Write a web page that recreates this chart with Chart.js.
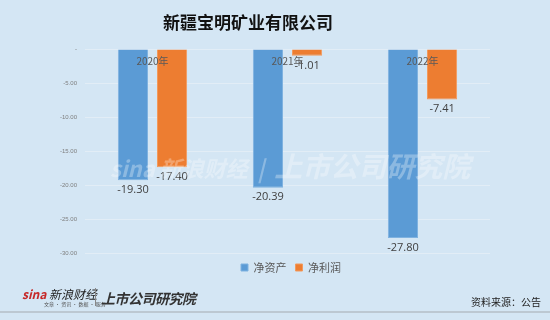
<!DOCTYPE html>
<html>
<head>
<meta charset="utf-8">
<script src="https://cdn.jsdelivr.net/npm/chart.js@4.4.0/dist/chart.umd.min.js"></script>
<style>
  body { margin: 0; }
  #wrap { position: relative; width: 550px; height: 320px; background: #d4e6f4; overflow: hidden;
    font-family: "Noto Sans CJK SC", "Noto Sans", sans-serif; }
  #chart { position: absolute; left: 0; top: 0; }
  .title { position: absolute; left: 0; width: 496px; top: 9px; text-align: center;
    font-size: 17px; font-weight: bold; color: #111; }
  .src { position: absolute; right: 9px; top: 294px; font-size: 10px; color: #222; }
  .rule { position: absolute; left: 0; right: 0; top: 311px; height: 2px; background: #bcc8d2; }
  .mark { position: absolute; left: 110px; top: 145px; font-size: 22px; font-weight: bold; font-style: italic;
    color: rgba(255,255,255,0.3); white-space: nowrap; pointer-events: none; }
  .mark span { font-size: 28px; }
  .logo1 { position: absolute; left: 22px; top: 285px; font-size: 12px; font-style: italic; color: #222; white-space: nowrap; }
  .logo1 b { color: #c62828; font-size: 12px; }
  .logo1 small { display: block; font-size: 5px; font-style: normal; margin-left: 22px; margin-top: -2px; color: #555; }
  .vline { position: absolute; left: 95px; top: 288px; width: 1px; height: 18px; background: #888; }
  .logo2 { position: absolute; left: 101px; top: 288px; font-size: 14px; font-weight: bold; font-style: italic; color: #333; letter-spacing: -0.5px; }
</style>
</head>
<body>
<div id="wrap">
  <canvas id="chart" width="550" height="320"></canvas>
  <div class="title">新疆宝明矿业有限公司</div>
  <div class="mark">sina 新浪财经 &nbsp;|&nbsp; <span>上市公司研究院</span></div>
  <div class="logo1"><b>sina</b> 新浪财经<small>文章 · 资讯 · 数据 · 服务</small></div>
  <div class="vline"></div>
  <div class="logo2">上市公司研究院</div>
  <div class="src">资料来源：公告</div>
  <div class="rule"></div>
</div>
<script>
// ===== DATA =====
const years = ["2020年", "2021年", "2022年"];
const netAssets = [-19.30, -20.39, -27.80];
const netProfit = [-17.40, -1.01, -7.41];
const seriesNames = ["净资产", "净利润"];
const yTicks = [0, -5, -10, -15, -20, -25, -30];

// ===== PLUGINS =====
// value labels under each bar + year labels just below the zero line
const labelPlugin = {
  id: "labels",
  afterDatasetsDraw(chart) {
    const ctx = chart.ctx;
    ctx.save();
    ctx.textAlign = "center";
    ctx.textBaseline = "top";
    ctx.fillStyle = "#404040";
    ctx.font = "11px 'Open Sans', 'Noto Sans', sans-serif";
    chart.data.datasets.forEach((ds, di) => {
      chart.getDatasetMeta(di).data.forEach((bar, i) => {
        ctx.fillText(ds.data[i].toFixed(2), bar.x, bar.y + 4);
      });
    });
    const x = chart.scales.x;
    ctx.fillStyle = "#595959";
    ctx.font = "10px 'Noto Sans CJK SC', sans-serif";
    years.forEach((y, i) => {
      ctx.fillText(y, x.getPixelForValue(i), chart.scales.y.getPixelForValue(0) + 7);
    });
    ctx.restore();
  },
  afterLayout(chart) {
    // nudge legend to the right like the original
    chart.legend.left += 20;
    chart.legend.right += 20;
  }
};

new Chart(document.getElementById("chart"), {
  type: "bar",
  data: {
    labels: years,
    datasets: [
      { label: seriesNames[0], data: netAssets, backgroundColor: "#5b9bd5", borderColor: "#7fb2e0", borderWidth: 1 },
      { label: seriesNames[1], data: netProfit, backgroundColor: "#ed7d31", borderColor: "#f29a5c", borderWidth: 1 }
    ]
  },
  options: {
    responsive: false,
    animation: false,
    layout: { padding: { left: 52, right: 60, top: 49, bottom: 37 } },
    datasets: { bar: { categoryPercentage: 0.58, barPercentage: 0.77 } },
    scales: {
      x: { display: false },
      y: {
        min: -30, max: 0,
        afterBuildTicks(scale) { scale.ticks = yTicks.map(v => ({ value: v })); },
        afterFit(scale) { scale.width = 33; },
        border: { display: false },
        grid: { color: "#e2edf6", lineWidth: 1, drawTicks: false },
        ticks: {
          padding: 8,
          color: "#7f7f7f",
          font: { size: 6 },
          callback: v => (v === 0 ? "-" : v.toFixed(2))
        }
      }
    },
    plugins: {
      legend: {
        position: "bottom",
        labels: { boxWidth: 7, boxHeight: 7, padding: 9, color: "#595959",
          font: { size: 11, family: "'Noto Sans CJK SC', sans-serif" } }
      },
      tooltip: { enabled: false }
    }
  },
  plugins: [labelPlugin]
});
</script>
</body>
</html>
